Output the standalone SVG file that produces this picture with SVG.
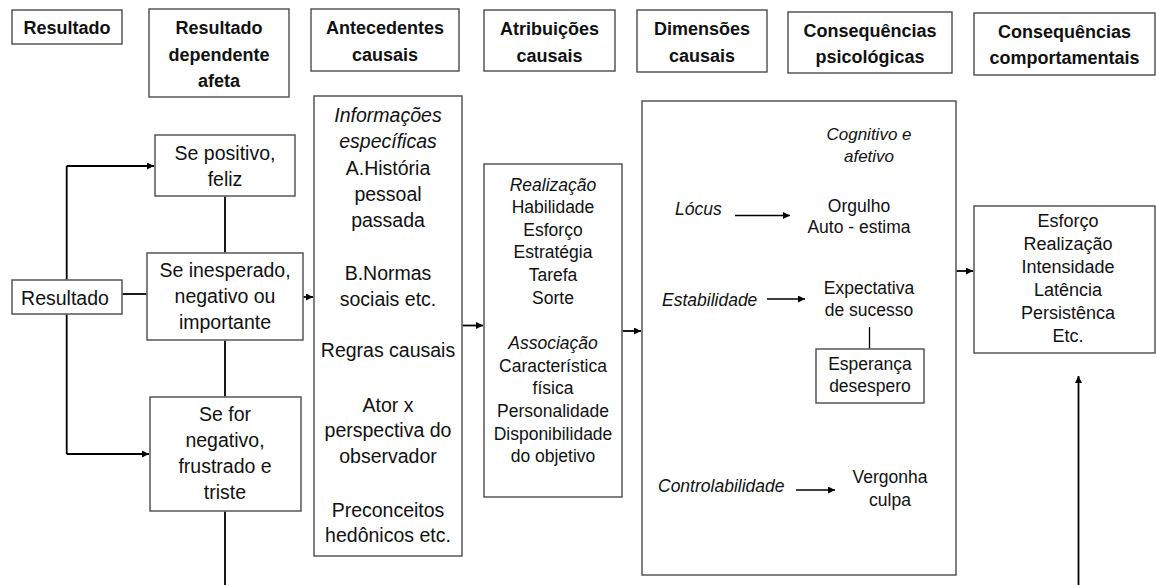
<svg xmlns="http://www.w3.org/2000/svg" width="1156" height="585" viewBox="0 0 1156 585">
<style>
  text{font-family:"Liberation Sans",Arial,sans-serif;fill:#111;text-anchor:middle}
  .h{font-weight:bold;font-size:18px}
  .b{font-size:19.5px}
  .s{font-size:17.5px}
  .i{font-style:italic}
  .st{text-anchor:start}
  rect{fill:#fff;stroke:#4a4a4a;stroke-width:1.4}
  .c{fill:none;stroke:#000;stroke-width:1.8}
  .t{fill:none;stroke:#000;stroke-width:1.3}
</style>
<defs>
  <marker id="ah" markerUnits="userSpaceOnUse" markerWidth="8" markerHeight="8" refX="7" refY="3.5" orient="auto">
    <path d="M0,0 L7,3.5 L0,7 z" fill="#000"/>
  </marker>
</defs>
<g id="h-resultado"><rect x="12" y="10" width="110" height="34"/><text class="h" x="67" y="34">Resultado</text></g>
<g id="h-dependente"><rect x="149" y="9" width="140" height="88"/><text class="h" x="219" y="34">Resultado</text><text class="h" x="219" y="61">dependente</text><text class="h" x="219" y="87">afeta</text></g>
<g id="h-antecedentes"><rect x="311" y="9" width="148" height="62"/><text class="h" x="385" y="34">Antecedentes</text><text class="h" x="385" y="61">causais</text></g>
<g id="h-atribuicoes"><rect x="484" y="10" width="131" height="61"/><text class="h" x="549.5" y="35">Atribuições</text><text class="h" x="549.5" y="62">causais</text></g>
<g id="h-dimensoes"><rect x="637" y="10" width="130" height="62"/><text class="h" x="702" y="35">Dimensões</text><text class="h" x="702" y="62">causais</text></g>
<g id="h-psicologicas"><rect x="788" y="12" width="164" height="61"/><text class="h" x="870" y="37">Consequências</text><text class="h" x="870" y="63">psicológicas</text></g>
<g id="h-comportamentais"><rect x="974" y="13" width="181" height="62"/><text class="h" x="1064.5" y="38">Consequências</text><text class="h" x="1064.5" y="64">comportamentais</text></g>
<g id="n-resultado"><rect x="12" y="280" width="110" height="34"/><text class="b" x="65" y="304.5">Resultado</text></g>
<g id="n-positivo"><rect x="155" y="135" width="140" height="61"/><text class="b" x="225" y="160">Se positivo,</text><text class="b" x="225" y="186">feliz</text></g>
<g id="n-inesperado"><rect x="147" y="253" width="156" height="87"/><text class="b" x="225" y="277">Se inesperado,</text><text class="b" x="225" y="303">negativo ou</text><text class="b" x="225" y="328.5">importante</text></g>
<g id="n-negativo"><rect x="150" y="397" width="151" height="114"/><text class="b" x="225" y="421">Se for</text><text class="b" x="225" y="447">negativo,</text><text class="b" x="225" y="473">frustrado e</text><text class="b" x="225" y="498.5">triste</text></g>
<g id="n-antecedentes"><rect x="314" y="96" width="148" height="460"/>
  <text class="b i" x="388" y="122">Informações</text>
  <text class="b i" x="388" y="148">específicas</text>
  <text class="b" x="388" y="174.5">A.História</text>
  <text class="b" x="388" y="201">pessoal</text>
  <text class="b" x="388" y="227">passada</text>
  <text class="b" x="388" y="280">B.Normas</text>
  <text class="b" x="388" y="306">sociais etc.</text>
  <text class="b" x="388" y="357">Regras causais</text>
  <text class="b" x="388" y="411.5">Ator x</text>
  <text class="b" x="388" y="437">perspectiva do</text>
  <text class="b" x="388" y="463">observador</text>
  <text class="b" x="388" y="516.5">Preconceitos</text>
  <text class="b" x="388" y="542">hedônicos etc.</text>
</g>
<g id="n-atribuicoes"><rect x="484" y="164" width="138" height="333"/>
  <text class="s i" x="553" y="190.5">Realização</text>
  <text class="s" x="553" y="213">Habilidade</text>
  <text class="s" x="553" y="235.5">Esforço</text>
  <text class="s" x="553" y="258">Estratégia</text>
  <text class="s" x="553" y="281">Tarefa</text>
  <text class="s" x="553" y="303.5">Sorte</text>
  <text class="s i" x="553" y="349">Associação</text>
  <text class="s" x="553" y="371.5">Característica</text>
  <text class="s" x="553" y="394">física</text>
  <text class="s" x="553" y="417">Personalidade</text>
  <text class="s" x="553" y="439.5">Disponibilidade</text>
  <text class="s" x="553" y="462">do objetivo</text>
</g>
<g id="n-dimensoes"><rect x="642" y="101" width="314" height="474"/>
  <text class="s i" x="869" y="140" style="font-size:17px">Cognitivo e</text>
  <text class="s i" x="869" y="162" style="font-size:17px">afetivo</text>
  <text class="s i st" x="675" y="215">Lócus</text>
  <text class="s" x="859" y="212">Orgulho</text>
  <text class="s" x="859" y="233">Auto - estima</text>
  <text class="s i st" x="662" y="306">Estabilidade</text>
  <text class="s" x="869" y="294">Expectativa</text>
  <text class="s" x="869" y="316">de sucesso</text>
  <text class="s i st" x="658" y="491.5">Controlabilidade</text>
  <text class="s" x="890" y="483">Vergonha</text>
  <text class="s" x="890" y="506">culpa</text>
</g>
<g id="n-esperanca"><rect x="816" y="349" width="108" height="54"/><text class="s" x="870" y="370">Esperança</text><text class="s" x="870" y="392">desespero</text></g>
<g id="n-comportamentais"><rect x="974" y="206" width="181" height="147"/>
  <text class="s" x="1068" y="227" style="font-size:18px">Esforço</text>
  <text class="s" x="1068" y="250" style="font-size:18px">Realização</text>
  <text class="s" x="1068" y="273" style="font-size:18px">Intensidade</text>
  <text class="s" x="1068" y="296" style="font-size:18px">Latência</text>
  <text class="s" x="1068" y="319" style="font-size:18px">Persistênca</text>
  <text class="s" x="1068" y="342" style="font-size:18px">Etc.</text>
</g>
<g id="connectors">
  <path class="c" d="M66.7,166 V279.3"/>
  <path class="c" d="M66.7,314.7 V454"/>
  <path class="c" d="M66.7,166 H154" marker-end="url(#ah)"/>
  <path class="c" d="M66.7,454 H149" marker-end="url(#ah)"/>
  <path class="c" d="M122.7,294 H146.3"/>
  <path class="c" d="M225,196.7 V252.3"/>
  <path class="c" d="M225,340.7 V396.3"/>
  <path class="c" d="M225,511.7 V585"/>
  <path class="c" d="M303.7,297 H313" marker-end="url(#ah)"/>
  <path class="c" d="M462.7,325.5 H483" marker-end="url(#ah)"/>
  <path class="c" d="M622.7,331 H641" marker-end="url(#ah)"/>
  <path class="c" d="M956.7,271 H973" marker-end="url(#ah)"/>
  <path class="c" d="M1078.5,585 V376" marker-end="url(#ah)"/>
  <path class="t" d="M735,215.5 H790" marker-end="url(#ah)"/>
  <path class="t" d="M767,299 H805" marker-end="url(#ah)"/>
  <path class="t" d="M796,490 H835" marker-end="url(#ah)"/>
  <path class="t" d="M869.5,327 V348.3"/>
</g>
</svg>
